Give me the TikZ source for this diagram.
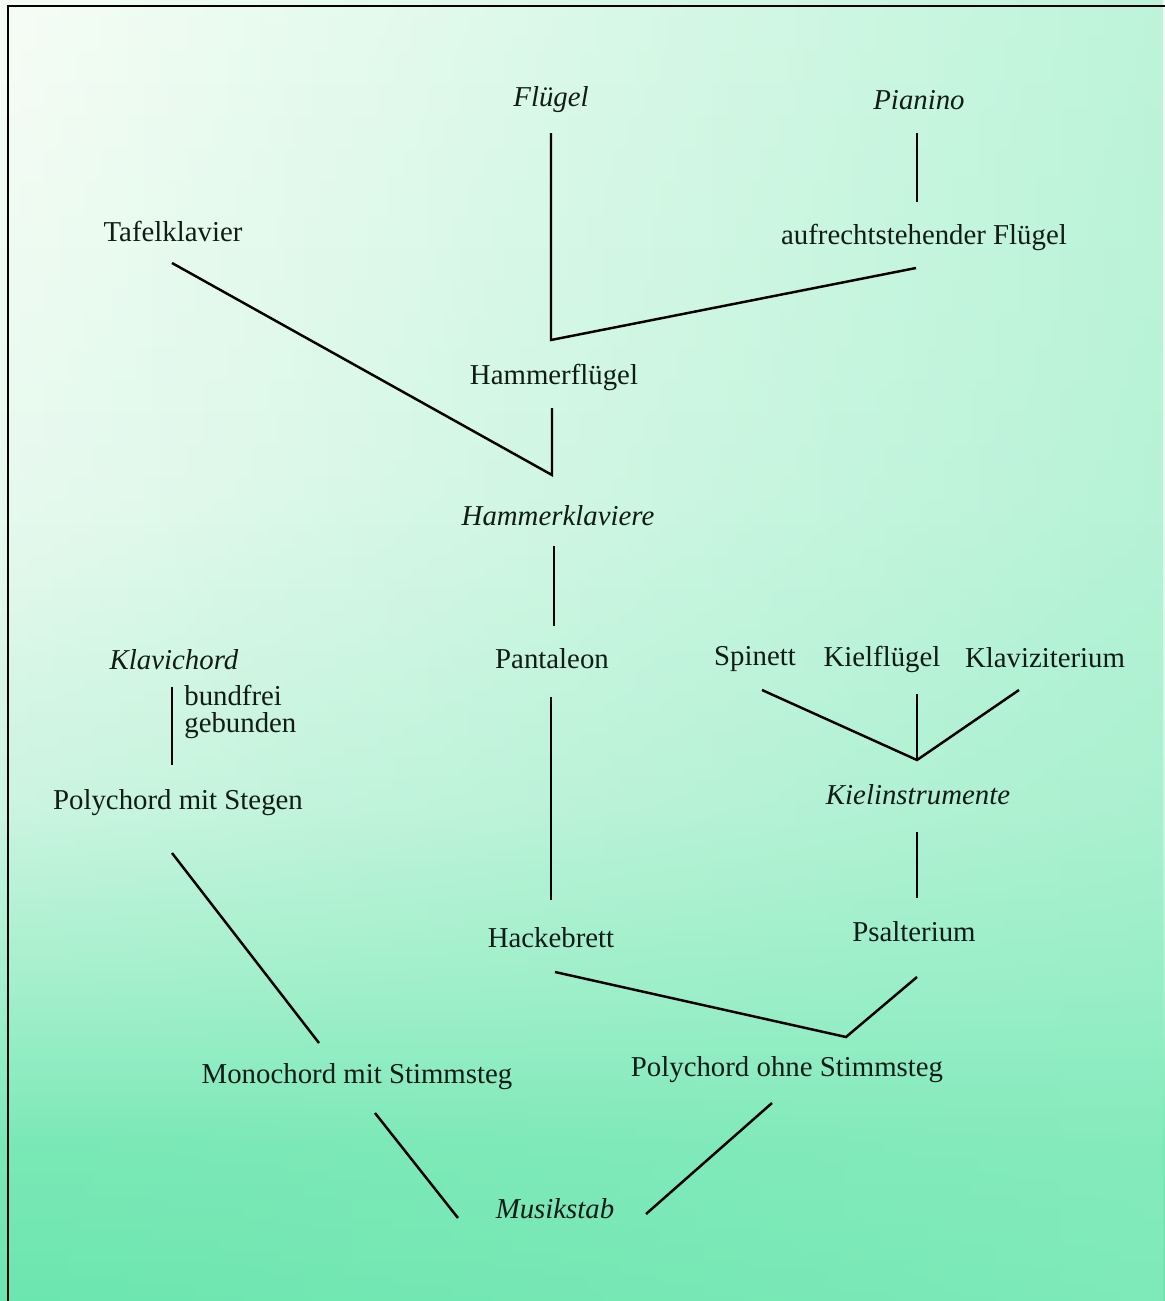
\documentclass[tikz,border=0pt]{standalone}
\usepackage{xcolor}
\usepackage{fontspec}
\setmainfont{Liberation Serif}
\usepackage{tikz}
\usetikzlibrary{calc}
\usetikzlibrary{positioning}
\usetikzlibrary{fadings}

\definecolor{bgtop}{HTML}{F7FDF6}
\definecolor{bghigh}{HTML}{E8FAEF}
\definecolor{bgmid}{HTML}{CCF5E0}
\definecolor{bglow}{HTML}{A4F0CC}
\definecolor{bgdeep}{HTML}{7AE8B6}
\definecolor{bgbot}{HTML}{6CE6AF}
\definecolor{bgside}{HTML}{8EEDC2}
\definecolor{ink}{HTML}{121C16}

\pgfdeclareverticalshading{paper}{100bp}{color(0bp)=(bgbot); color(25bp)=(bgbot); color(31bp)=(bgdeep); color(37bp)=(bglow); color(44bp)=(bgmid); color(56bp)=(bghigh); color(75bp)=(bgtop); color(100bp)=(bgtop)}
\tikzfading[name=fadeleft, left color=transparent!100, right color=transparent!45]

\tikzset{
 lbl/.style={inner sep=0pt, text=ink, font=\fontsize{16.4}{19}\selectfont},
 grp/.style={inner sep=0pt, text=ink, font=\fontsize{16.4}{19}\selectfont\itshape},
 con/.style={draw=black, line width=1.4pt}
}

\begin{document}
\begin{tikzpicture}[x=0.02cm, y=-0.02cm]
 \useasboundingbox (0,0) rectangle (1165,1301);
 \shade [shading=paper] (0,0) rectangle (1165,1301);
 \fill [bgside, path fading=fadeleft] (0,0) rectangle (1165,1301);
 \draw [line width=1.2pt] (8,1301) -- (8,6) -- (1165,6);

 \node [grp] (fluegel) at (551, 100) {Flügel};
 \node [grp] (pianino) at (919, 100) {Pianino};
 \node [lbl] (tafel) at (173, 231) {Tafelklavier};
 \node [lbl] (aufrecht) at (924, 237) {aufrechtstehender Flügel};
 \node [lbl] (hflug) at (554, 377) {Hammerflügel};
 \node [grp] (hklav) at (558, 516) {Hammerklaviere};
 \node [grp] (klavich) at (174, 660) {Klavichord};
 \node [lbl, align=left, anchor=west, font=\fontsize{16.4}{15}\selectfont] (bund) at (184, 712) {bundfrei\\gebunden};
 \node [lbl] (panta) at (552, 659) {Pantaleon};
 \node [lbl] (spinett) at (755, 659) {Spinett};
 \node [lbl] (kielfl) at (882, 659) {Kielflügel};
 \node [lbl] (klavizit) at (1045, 658) {Klaviziterium};
 \node [lbl] (polyst) at (178, 803) {Polychord mit Stegen};
 \node [grp] (kielinst) at (918, 795) {Kielinstrumente};
 \node [lbl] (hacke) at (551, 938) {Hackebrett};
 \node [lbl] (psalt) at (914, 932) {Psalterium};
 \node [lbl] (mono) at (357, 1077) {Monochord mit Stimmsteg};
 \node [lbl] (polyohne) at (787, 1070) {Polychord ohne Stimmsteg};
 \node [grp] (musik) at (555, 1209) {Musikstab};

 \coordinate (jfl) at (551, 340);
 \coordinate (jhk) at (552, 475);
 \coordinate (jki) at (917, 760);
 \coordinate (jpo) at (846, 1037);

 \draw [con] ($(fluegel)+(0,33)$) -- (jfl) -- ($(aufrecht)+(-8,31)$);
 \draw [con] ($(pianino)+(-2,33)$) -- ($(aufrecht)+(-7,-35)$);
 \draw [con] ($(tafel)+(-1,32)$) -- (jhk) -- ($(hflug)+(-2,31)$);
 \draw [con] ($(hklav)+(-4,30)$) -- ($(panta)+(2,-33)$);
 \draw [con] ($(panta)+(-1,38)$) -- ($(hacke)+(0,-38)$);
 \draw [con] ($(spinett)+(7,31)$) -- (jki) -- ($(klavizit)+(-26,32)$);
 \draw [con] ($(kielfl)+(35,35)$) -- (jki);
 \draw [con] ($(kielinst)+(-1,37)$) -- ($(psalt)+(3,-34)$);
 \draw [con] ($(klavich)+(-2,27)$) -- ($(polyst)+(-6,-38)$);
 \draw [con] ($(polyst)+(-6,50)$) -- ($(mono)+(-38,-34)$);
 \draw [con] ($(hacke)+(4,34)$) -- (jpo) -- ($(psalt)+(3,45)$);
 \draw [con] ($(mono)+(18,36)$) -- ($(musik)+(-97,9)$);
 \draw [con] ($(polyohne)+(-15,33)$) -- ($(musik)+(91,5)$);
\end{tikzpicture}
\end{document}
